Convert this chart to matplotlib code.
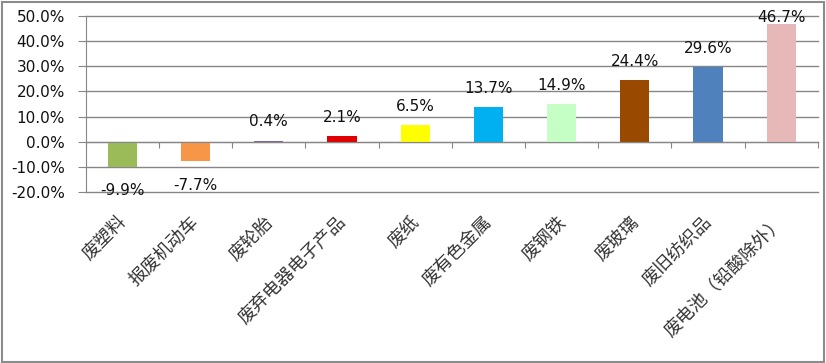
import numpy as np
import matplotlib
matplotlib.use("Agg")
import matplotlib.pyplot as plt
from matplotlib.patches import Rectangle
from matplotlib.ticker import FuncFormatter, FixedLocator
import matplotlib.transforms as mtransforms

plt.rcParams["font.family"] = ["Noto Sans CJK SC", "DejaVu Sans"]

CATEGORIES = ["废塑料", "报废机动车", "废轮胎", "废弃电器电子产品", "废纸",
              "废有色金属", "废钢铁", "废玻璃", "废旧纺织品", "废电池（铅酸除外）"]
GROWTH = [-9.9, -7.7, 0.4, 2.1, 6.5, 13.7, 14.9, 24.4, 29.6, 46.7]
BAR_COLORS = ["#9BBB59", "#F79646", "#8064A2", "#E00000", "#FFFF00",
              "#00B0F0", "#C6FFC6", "#994A00", "#4F81BD", "#E6B9B8"]
Y_TICKS = [-20, -10, 0, 10, 20, 30, 40, 50]

fig = plt.figure(figsize=(8.26, 3.63), dpi=100)
fig.patches.append(Rectangle((0.002, 0.004), 0.995, 0.99, transform=fig.transFigure,
                             fill=False, edgecolor="#8c8c8c", linewidth=1.5))
ax = fig.add_axes([0.104, 0.471, 0.886, 0.485])

x = np.arange(len(CATEGORIES))
ax.bar(x, GROWTH, width=0.4, color=BAR_COLORS, zorder=3)

ax.set_xlim(-0.5, len(CATEGORIES) - 0.5)
ax.set_ylim(min(Y_TICKS), max(Y_TICKS))
ax.set_yticks(Y_TICKS)
ax.yaxis.set_major_formatter(FuncFormatter(lambda v, p: "%.1f%%" % v))
ax.tick_params(axis="y", labelsize=11, length=6, color="#868686", pad=9,
               labelcolor="#111111")
for lab in ax.get_yticklabels():
    lab.set_family(["DejaVu Sans"])
ax.grid(axis="y", color="#868686", linewidth=1, zorder=0)
for gl in ax.get_ygridlines():
    gl.set_clip_on(False)

for s in ["top", "right"]:
    ax.spines[s].set_visible(False)
ax.spines["left"].set_color("#868686")
ax.spines["bottom"].set_position(("data", 0))
ax.spines["bottom"].set_color("#868686")
ax.spines["bottom"].set_zorder(4)
ax.xaxis.set_major_locator(FixedLocator(np.arange(len(CATEGORIES) + 1) - 0.5))
ax.tick_params(axis="x", labelbottom=False, length=4, color="#868686", direction="out")

# value labels
for i, v in enumerate(GROWTH):
    if v >= 0:
        ty = min(v + 7.6, 49.5)
    else:
        ty = v - 9.6
    ax.text(i, ty, "%.1f%%" % v, ha="center", va="center", fontsize=11,
            family=["DejaVu Sans"], color="#111111", zorder=5, clip_on=False)

# rotated category labels below the plot
offset = mtransforms.ScaledTranslation(-4 / 72, -15 / 72, fig.dpi_scale_trans)
for i, name in enumerate(CATEGORIES):
    ax.text(i, min(Y_TICKS), name, rotation=45, ha="right", va="top",
            rotation_mode="anchor", fontsize=13, color="#333333",
            transform=ax.transData + offset)

fig.savefig("out.png", dpi=100)
